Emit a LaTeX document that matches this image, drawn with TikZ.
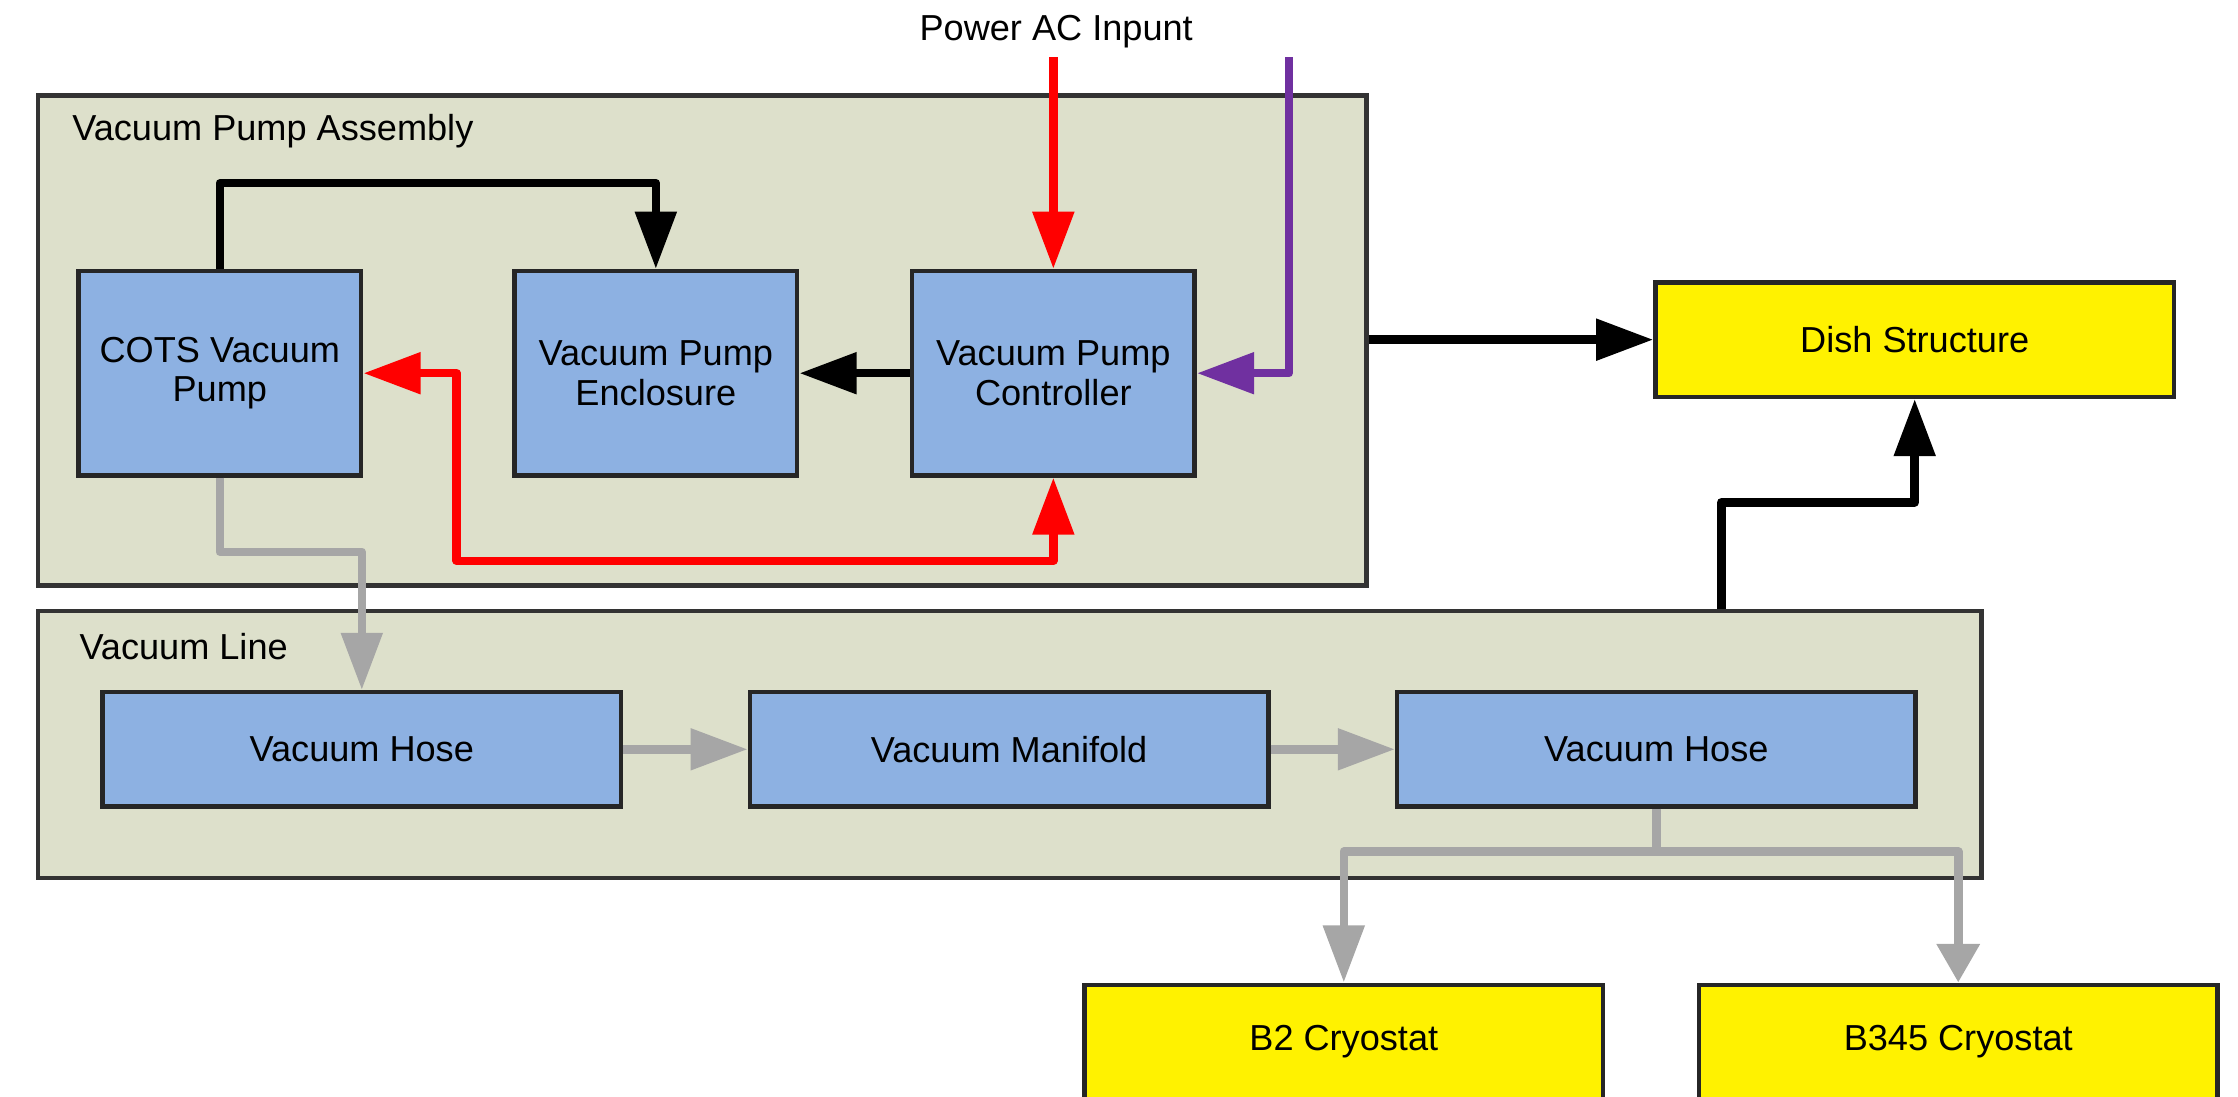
\documentclass[tikz,border=0pt]{standalone}
\usepackage{fontspec}
\setmainfont{Liberation Sans}
\usepackage{xcolor}
\usepackage{tikz}
\usetikzlibrary{
  positioning,
  arrows.meta,
  calc
}
\definecolor{grpolive}{HTML}{DDE0CB}
\definecolor{boxblue}{HTML}{8DB1E2}
\definecolor{pipegray}{HTML}{A6A6A6}
\definecolor{sigpurple}{HTML}{7030A0}

\begin{document}
\begin{tikzpicture}[x=0.01cm, y=-0.01cm,
  font=\fontsize{7.2}{7.8}\selectfont,
  >={Triangle[length=0.4cm, width=0.28cm]},
  grp/.style={draw=black!80, line width=0.9pt, fill=grpolive, inner sep=0pt},
  unit/.style={draw=black!85, line width=0.9pt, fill=boxblue, inner sep=0pt, align=center,
    minimum width=1.98cm, minimum height=1.43cm},
  wide/.style={unit, minimum width=3.63cm, minimum height=0.80cm},
  extbox/.style={wide, fill=yellow},
  flow/.style={line width=1.7pt, line join=round, ->}]
  \useasboundingbox (0,0) rectangle (1568,768);

  % 分组框
  \node[grp, minimum width=9.30cm, minimum height=3.43cm] (vpa) at (492,238.5) {};
  \node[anchor=west, inner sep=0pt] (vpalbl) at (50,92) {Vacuum Pump Assembly};
  \node[grp, minimum width=13.61cm, minimum height=1.87cm] (vline) at (707.5,521.5) {};
  \node[anchor=west, inner sep=0pt] (vlinelbl) at (55,453) {Vacuum Line};

  % 泵组件
  \node[unit] (cots) at (154,261.5) {COTS Vacuum\\Pump};
  \node[unit] (encl) at (459.5,261.5) {Vacuum Pump\\Enclosure};
  \node[unit] (ctrl) at (738,261.5) {Vacuum Pump\\Controller};

  % 真空管路
  \node[wide] (hose1) at (253.5,525) {Vacuum Hose};
  \node[wide] (manif) at (707,525) {Vacuum Manifold};
  \node[wide] (hose2) at (1160.5,525) {Vacuum Hose};

  % 外部
  \node[extbox] (dish) at (1341.5,238) {Dish Structure};
  \node[extbox] (b2) at (941.5,730) {B2 Cryostat};
  \node[extbox] (b345) at (1372,730) {B345 Cryostat};

  % 电源与信号输入
  \node[inner sep=0pt] (aclbl) at (740,22) {Power AC Inpunt};
  \coordinate (acin) at (738,40);
  \coordinate (sigin) at (903,40);
  \draw[flow, red] (acin) -- (ctrl.north);
  \draw[flow, sigpurple] (sigin) |- (ctrl.east);

  % 机械连接
  \draw[flow] (cots.north) -- ++(0,-60) -| (encl.north);
  \draw[flow] (ctrl.west) -- (encl.east);
  \draw[flow] (vpa.east |- dish.west) -- (dish.west);
  \coordinate (dishbend) at (1206,352);
  \draw[flow] (vline.north -| dishbend) -- (dishbend) -| (dish.south);

  % 控制线（双向）
  \coordinate (redbend) at (320,393);
  \draw[flow, red, <->] (cots.east) -| (redbend) -| (ctrl.south);

  % 真空流向
  \draw[flow, pipegray] (cots.south) -- ++(0,52) -| (hose1.north);
  \draw[flow, pipegray] (hose1.east) -- (manif.west);
  \draw[flow, pipegray] (manif.east) -- (hose2.west);
  \draw[line width=1.7pt, pipegray] (hose2.south) -- ++(0,30) coordinate (split);
  \draw[flow, pipegray] (split) -| (b2.north);
  \draw[flow, pipegray, -{Triangle[length=0.27cm, width=0.29cm]}] (split) -| (b345.north);
\end{tikzpicture}
\end{document}
